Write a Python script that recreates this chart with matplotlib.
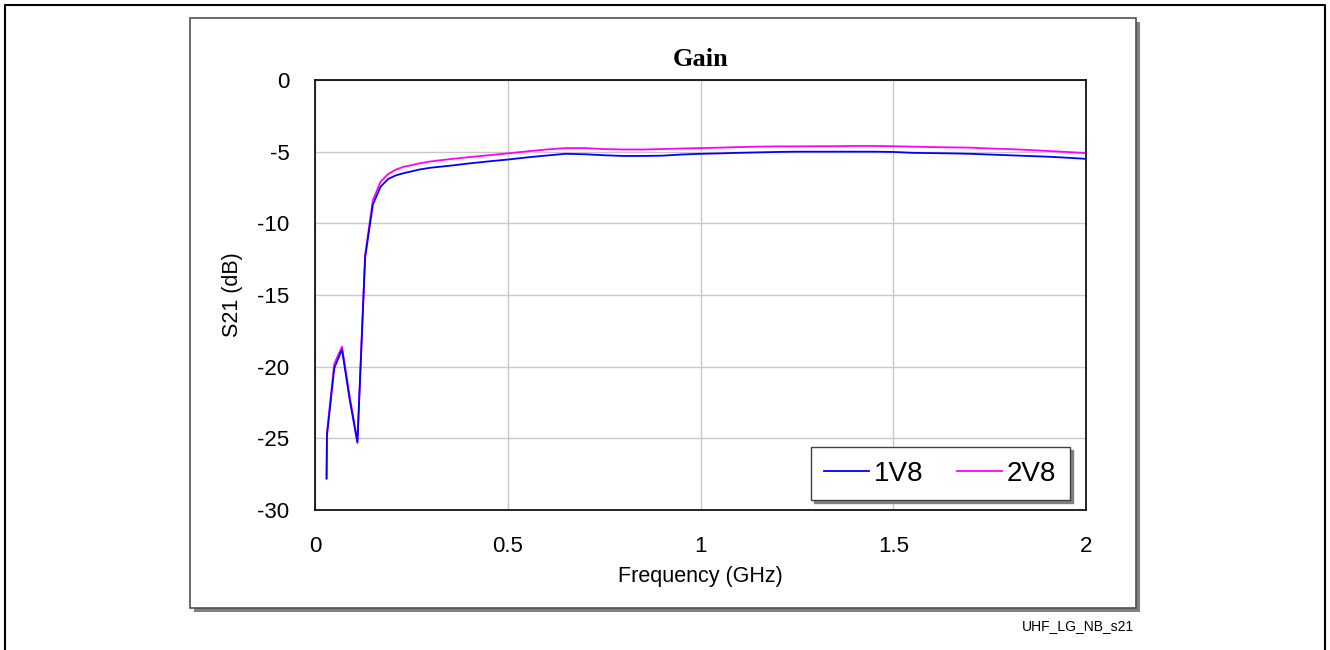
import matplotlib
matplotlib.use("Agg")
import matplotlib.pyplot as plt
from matplotlib.patches import Rectangle
from matplotlib.lines import Line2D

# Frequency points (GHz)
freq = [0.03, 0.031, 0.05, 0.07, 0.09, 0.11, 0.13, 0.15, 0.17, 0.19,
        0.21, 0.23, 0.25, 0.27, 0.30, 0.35, 0.40, 0.45, 0.50, 0.55,
        0.60, 0.65, 0.70, 0.75, 0.80, 0.85, 0.90, 0.95, 1.00, 1.05,
        1.10, 1.15, 1.20, 1.25, 1.30, 1.35, 1.40, 1.45, 1.50, 1.55,
        1.60, 1.65, 1.70, 1.75, 1.80, 1.85, 1.90, 1.95, 2.00]

# S21 (dB) at 1.8 V supply
s21_1v8 = [-27.8, -24.8, -20.1, -18.8, -22.3, -25.3, -12.4, -8.7, -7.45, -6.9,
           -6.65, -6.5, -6.38, -6.25, -6.12, -5.98, -5.82, -5.68, -5.55, -5.40,
           -5.27, -5.15, -5.18, -5.25, -5.30, -5.30, -5.28, -5.20, -5.15, -5.12,
           -5.08, -5.05, -5.02, -5.00, -5.00, -5.00, -5.00, -5.00, -5.02, -5.08,
           -5.10, -5.12, -5.15, -5.20, -5.25, -5.30, -5.35, -5.42, -5.50]

# S21 (dB) at 2.8 V supply
s21_2v8 = [-27.8, -24.6, -19.8, -18.6, -22.1, -25.2, -12.2, -8.4, -7.1, -6.55,
           -6.25, -6.05, -5.95, -5.82, -5.68, -5.52, -5.38, -5.25, -5.12, -4.98,
           -4.85, -4.75, -4.75, -4.82, -4.85, -4.85, -4.82, -4.78, -4.75, -4.72,
           -4.68, -4.65, -4.63, -4.63, -4.62, -4.62, -4.60, -4.60, -4.62, -4.65,
           -4.68, -4.70, -4.72, -4.78, -4.82, -4.88, -4.95, -5.02, -5.10]

series_names = ["1V8", "2V8"]
series_colors = ["#0000ff", "#ff00ff"]
x_ticks = [0, 0.5, 1, 1.5, 2]
x_tick_labels = ["0", "0.5", "1", "1.5", "2"]
y_ticks = [0, -5, -10, -15, -20, -25, -30]
y_tick_labels = ["0", "-5", "-10", "-15", "-20", "-25", "-30"]

W, H = 1330, 650
fig = plt.figure(figsize=(W / 100, H / 100), dpi=100)
fig.patch.set_facecolor("white")
plt.rcParams["font.family"] = ["Liberation Sans", "DejaVu Sans"]


def px_rect(x0, y0, x1, y1, **kw):
    """Rectangle given in pixel coordinates (origin at top-left)."""
    return Rectangle((x0 / W, 1 - y1 / H), (x1 - x0) / W, (y1 - y0) / H,
                     transform=fig.transFigure, **kw)


def px_line(xs, ys, **kw):
    return Line2D([x / W for x in xs], [1 - y / H for y in ys],
                  transform=fig.transFigure, **kw)


# Page frame (left, top, right)
fig.add_artist(px_line([5, 5, 1325, 1325], [660, 5, 5, 660], color="black", lw=1.5))

# Chart panel with drop shadow
fig.add_artist(px_rect(194, 22, 1140, 612, facecolor="#808080", edgecolor="none", zorder=0))
fig.add_artist(px_rect(190, 18, 1136, 608, facecolor="white", edgecolor="#505050", lw=1.2, zorder=0.5))

# Plot area
ax = fig.add_axes([315 / W, 1 - 510 / H, (1086 - 315) / W, (510 - 80) / H])
ax.set_zorder(2)
ax.set_facecolor("white")
for name, col, vals in zip(series_names, series_colors, [s21_1v8, s21_2v8]):
    ax.plot(freq, vals, color=col, lw=1.3, label=name)
# draw 1V8 on top
ax.lines[0].set_zorder(3)
ax.lines[1].set_zorder(2.5)

ax.set_xlim(0, 2)
ax.set_ylim(-30, 0)
ax.set_xticks(x_ticks)
ax.set_xticklabels(x_tick_labels)
ax.set_yticks(y_ticks)
ax.set_yticklabels(y_tick_labels)
ax.tick_params(length=0, labelsize=16, pad=18.5)
ax.grid(True, color="#c8c8c8", lw=1.0)
ax.set_axisbelow(True)
for sp in ax.spines.values():
    sp.set_color("black")
    sp.set_linewidth(1.2)

ax.set_xlabel("Frequency (GHz)", fontsize=15.5, labelpad=7)
ax.set_ylabel("S21 (dB)", fontsize=15.5, labelpad=10)
ax.set_title("Gain", fontsize=19, fontweight="bold", family="Liberation Serif", pad=10)

leg = ax.legend(loc="lower right", ncol=2, fontsize=20, frameon=True, fancybox=False,
                shadow={"color": "#808080", "alpha": 1.0}, borderpad=0.48,
                handlelength=1.6, handletextpad=0.2, columnspacing=1.2,
                borderaxespad=0, bbox_to_anchor=(0.979, 0.023))
leg.get_frame().set_edgecolor("#404040")
leg.get_frame().set_linewidth(1.0)

fig.text(1134 / W, 1 - 626 / H, "UHF_LG_NB_s21", ha="right", va="center", fontsize=10)

fig.savefig("out.png", dpi=100)
